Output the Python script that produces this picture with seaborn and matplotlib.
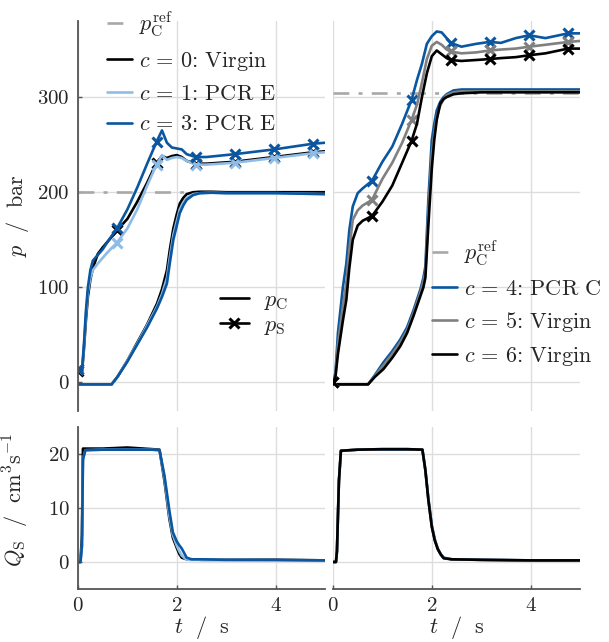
import numpy as np
import matplotlib
matplotlib.use('Agg')
import matplotlib.pyplot as plt
from matplotlib.lines import Line2D
import seaborn as sns

# --- colours ---
DARK_BLUE = '#0a56a0'
LIGHT_BLUE = '#8ebce6'
GRAY = '#808080'
BLACK = '#000000'
REF_GRAY = '#a8a8a8'

# --- top left: p in bar, cases c=0, 1, 3 ---
p_ref_left = 200
t_pS_left = [0, 0.08, 0.12, 0.16, 0.2, 0.25, 0.3, 0.4, 0.5, 0.6, 0.79, 1.0, 1.2, 1.4,
             1.59, 1.7, 1.8, 1.9, 2.0, 2.1, 2.2, 2.38, 2.6, 3.17, 3.97, 4.76, 5.0]
pS_c0 = [12, 10, 35, 65, 90, 108, 120, 135, 142, 148, 160, 172, 190, 210,
         231, 238, 236, 238, 239, 237, 233, 230, 230, 232, 237, 242, 243]
pS_c1 = [14, 12, 38, 70, 95, 110, 118, 125, 131, 137, 147, 162, 182, 207,
         229, 239, 234, 236, 237, 236, 233, 229, 229, 231, 236, 241, 242]
pS_c3 = [14, 12, 40, 75, 100, 118, 128, 134, 140, 148, 162, 182, 205, 230,
         253, 265, 252, 247, 246, 245, 240, 237, 237, 240, 245, 251, 252]

t_pC_left = [0, 0.6, 0.68, 0.8, 1.0, 1.2, 1.4, 1.6, 1.7, 1.8, 1.86, 1.93, 2.0, 2.06,
             2.13, 2.2, 2.33, 2.47, 2.7, 3.0, 4.0, 5.0]
pC_c0 = [-2, -2, -2, 6, 23, 42, 61, 83, 98, 118, 140, 162, 177, 188,
         194, 198, 200, 200.5, 200.5, 200, 200, 200]
pC_c1 = [-2, -2, -2, 6, 23, 41, 60, 80, 93, 110, 132, 155, 170, 182,
         189, 194, 198, 199, 199.5, 199, 199, 198]
pC_c3 = [-2, -2, -2, 6, 22, 40, 58, 78, 90, 104, 126, 150, 165, 178,
         186, 192, 197, 199, 199.5, 199, 199, 198]

# --- top right: p in bar, cases c=4, 5, 6 ---
p_ref_right = 304
t_pS_right = [0, 0.05, 0.1, 0.2, 0.27, 0.33, 0.4, 0.5, 0.6, 0.79, 1.0, 1.2, 1.4, 1.59,
              1.7, 1.8, 1.9, 2.0, 2.1, 2.2, 2.3, 2.38, 2.6, 2.9, 3.17, 3.4, 3.7, 3.97,
              4.3, 4.76, 5.0]
pS_c4 = [0, 10, 52, 100, 125, 160, 185, 199, 204, 212, 232, 248, 272, 297,
         318, 335, 356, 364, 369, 368, 362, 357, 353, 356, 358, 357, 362, 365,
         362, 367, 367]
pS_c5 = [0, 8, 40, 80, 105, 140, 171, 181, 186, 192, 214, 231, 252, 276,
         292, 315, 340, 354, 358, 355, 350, 348, 346, 347, 349, 350, 351, 353,
         355, 358, 359]
pS_c6 = [0, 6, 30, 65, 87, 120, 150, 165, 170, 175, 190, 207, 231, 254,
         272, 300, 325, 343, 349, 345, 341, 339, 338, 339, 340, 341, 342, 344,
         346, 351, 351]

t_pC_right = [0, 0.6, 0.71, 0.85, 1.02, 1.2, 1.36, 1.5, 1.63, 1.77, 1.83, 1.87, 1.93,
              2.0, 2.05, 2.1, 2.17, 2.24, 2.3, 2.44, 2.6, 3.0, 4.0, 5.0]
pC_c4 = [-2, -2, -2, 8, 21, 33, 45, 58, 76, 98, 110, 122, 192,
         255, 272, 286, 295, 300, 303, 307, 308, 308, 308, 308]
pC_c5 = [-2, -2, -2, 7, 18, 30, 42, 55, 73, 95, 106, 116, 178,
         240, 262, 279, 291, 298, 302, 305, 306, 306, 306, 306]
pC_c6 = [-2, -2, -2, 6, 14, 26, 38, 52, 70, 91, 100, 110, 165,
         225, 255, 276, 293, 298, 300, 303, 304, 305, 305, 305]

# --- bottom: flow rate Q_S ---
t_Q_left = [0, 0.05, 0.08, 0.1, 0.15, 0.5, 1.0, 1.5, 1.65, 1.75, 1.85, 1.92, 2.0,
            2.05, 2.1, 2.2, 2.3, 2.5, 3.0, 4.0, 5.0]
Q_c0 = [0, 0, 5, 21, 21, 21, 21.2, 20.9, 20.8, 15, 8, 4.5, 2.6, 1.5, 0.8, 0.5, 0.5,
        0.4, 0.4, 0.4, 0.3]
Q_c1 = [0, 0, 3, 19, 20.7, 20.8, 20.8, 20.8, 20.7, 15.5, 8.5, 5, 3, 2, 1.2, 0.4,
        0.4, 0.4, 0.4, 0.3, 0.3]
Q_c3 = [0, 0, 3, 19, 20.7, 20.8, 20.8, 20.8, 20.7, 16, 9.5, 5.5, 3.8, 3.1, 2.5, 0.8,
        0.5, 0.5, 0.4, 0.4, 0.3]

t_Q_right = [0, 0.06, 0.08, 0.12, 0.16, 0.5, 1.0, 1.5, 1.81, 1.87, 1.93, 2.0, 2.06,
             2.12, 2.18, 2.24, 2.4, 3.0, 4.0, 5.0]
Q_c4 = [0, 0, 2, 15, 20.6, 20.8, 20.8, 20.8, 20.8, 17, 11.8, 6.8, 4.2, 2.5, 1.5,
        0.8, 0.5, 0.4, 0.3, 0.3]
Q_c5 = [0, 0, 2, 15, 20.6, 20.8, 20.9, 20.9, 20.8, 17, 11.6, 6.6, 4.1, 2.4, 1.4,
        0.7, 0.5, 0.4, 0.3, 0.3]
Q_c6 = [0, 0, 2, 15, 20.6, 20.8, 20.9, 20.9, 20.8, 17, 11.5, 6.5, 4, 2.4, 1.4,
        0.7, 0.5, 0.4, 0.3, 0.3]

marker_times = [0, 0.79, 1.59, 2.38, 3.17, 3.97, 4.76]

sns.set_theme(style='white')
plt.rcParams['mathtext.fontset'] = 'cm'
plt.rcParams['font.family'] = 'serif'
plt.rcParams['font.serif'] = ['cmr10', 'DejaVu Serif']
plt.rcParams['axes.formatter.use_mathtext'] = True
plt.rcParams['axes.unicode_minus'] = False

FS = 15      # tick labels
FS_L = 16    # legends / axis labels
LW = 1.9
GRID_C = '#dddddd'
SPINE_C = '#555555'
REF_LS = (0, (6, 3.5, 1.5, 3.5))


def marker_idx(t, times):
    t = np.asarray(t)
    return [int(np.argmin(np.abs(t - m))) for m in times]


def draw(ax, t, y, color, pS=False, mtimes=None):
    kw = {}
    if pS:
        kw = dict(marker='x', markersize=7.5, markeredgewidth=2.2, markeredgecolor=color,
                  markerfacecolor=color, markevery=marker_idx(t, mtimes))
    sns.lineplot(x=t, y=y, ax=ax, color=color, lw=LW, estimator=None, sort=False,
                 legend=False, **kw)


def style_axes(ax, show_left, show_bottom, ylabels, xlabels):
    for s in ['top', 'right']:
        ax.spines[s].set_visible(False)
    ax.spines['left'].set_visible(show_left)
    ax.spines['bottom'].set_visible(show_bottom)
    for s in ['left', 'bottom']:
        ax.spines[s].set_color(SPINE_C)
        ax.spines[s].set_linewidth(1.3)
    ax.grid(True, color=GRID_C, lw=1.0)
    ax.set_axisbelow(True)
    ax.set_xlim(0, 5)
    ax.set_xticks([0, 2, 4])
    ax.tick_params(axis='both', labelsize=FS, direction='in', length=3, width=1,
                   color=SPINE_C, pad=6)
    ax.tick_params(axis='y', left=show_left, labelleft=ylabels)
    ax.tick_params(axis='x', bottom=show_bottom, labelbottom=xlabels)
    ax.set_xlabel('')
    ax.set_ylabel('')


fig = plt.figure(figsize=(6.09, 6.42), dpi=100)
W, H = 609, 642
ax_tl = fig.add_axes([78 / W, 1 - 411 / H, 247 / W, 390 / H])
ax_tr = fig.add_axes([333 / W, 1 - 411 / H, 247 / W, 390 / H])
ax_bl = fig.add_axes([78 / W, 1 - 589 / H, 247 / W, 162 / H])
ax_br = fig.add_axes([333 / W, 1 - 589 / H, 247 / W, 162 / H])

# top left
ax_tl.axhline(p_ref_left, color=REF_GRAY, lw=LW, ls=REF_LS, zorder=1.5)
for t, y, c in [(t_pC_left, pC_c0, BLACK), (t_pC_left, pC_c1, LIGHT_BLUE), (t_pC_left, pC_c3, DARK_BLUE)]:
    draw(ax_tl, t, y, c)
for t, y, c in [(t_pS_left, pS_c0, BLACK), (t_pS_left, pS_c1, LIGHT_BLUE), (t_pS_left, pS_c3, DARK_BLUE)]:
    draw(ax_tl, t, y, c, pS=True, mtimes=marker_times)

# top right
ax_tr.axhline(p_ref_right, color=REF_GRAY, lw=LW, ls=REF_LS, zorder=1.5)
for t, y, c in [(t_pC_right, pC_c4, DARK_BLUE), (t_pC_right, pC_c5, GRAY), (t_pC_right, pC_c6, BLACK)]:
    draw(ax_tr, t, y, c)
for t, y, c in [(t_pS_right, pS_c4, DARK_BLUE), (t_pS_right, pS_c5, GRAY), (t_pS_right, pS_c6, BLACK)]:
    draw(ax_tr, t, y, c, pS=True, mtimes=marker_times)

# bottom
for y, c in [(Q_c0, BLACK), (Q_c1, LIGHT_BLUE), (Q_c3, DARK_BLUE)]:
    draw(ax_bl, t_Q_left, y, c)
for y, c in [(Q_c4, DARK_BLUE), (Q_c5, GRAY), (Q_c6, BLACK)]:
    draw(ax_br, t_Q_right, y, c)

for ax in [ax_tl, ax_tr]:
    ax.set_ylim(-30, 380)
    ax.set_yticks([0, 100, 200, 300])
for ax in [ax_bl, ax_br]:
    ax.set_ylim(-5, 25)
    ax.set_yticks([0, 10, 20])

style_axes(ax_tl, True, False, True, False)
style_axes(ax_tr, False, False, False, False)
style_axes(ax_bl, True, True, True, True)
style_axes(ax_br, False, True, False, True)

ax_tl.set_ylabel(r'$p\ \ /\ \ \mathrm{bar}$', fontsize=FS_L)
ax_tl.yaxis.set_label_coords(-0.19, 0.5)
ax_bl.set_ylabel(r'$Q_{\mathrm{S}}\ \ /\ \ \mathrm{cm}^3\mathrm{s}^{-1}$', fontsize=FS_L)
ax_bl.yaxis.set_label_coords(-0.19, 0.55)
ax_bl.set_xlabel(r'$t\ \ /\ \ \mathrm{s}$', fontsize=FS_L, labelpad=-1)
ax_br.set_xlabel(r'$t\ \ /\ \ \mathrm{s}$', fontsize=FS_L, labelpad=-1)

ref_label = r'$p_{\mathrm{C}}^{\mathrm{ref}}$'
ref_handle = Line2D([], [], color=REF_GRAY, lw=LW, ls=REF_LS)

leg_kw = dict(loc='upper left', frameon=False, fontsize=FS_L, borderpad=0, borderaxespad=0,
              handlelength=1.15, handletextpad=0.3, labelspacing=0.5)

h_left = [ref_handle,
          Line2D([], [], color=BLACK, lw=LW),
          Line2D([], [], color=LIGHT_BLUE, lw=LW),
          Line2D([], [], color=DARK_BLUE, lw=LW)]
l_left = [ref_label, r'$c\,=\,0$: Virgin', r'$c\,=\,1$: PCR E', r'$c\,=\,3$: PCR E']
leg1 = ax_tl.legend(h_left, l_left, bbox_to_anchor=(0.117, 1.03), **leg_kw)
ax_tl.add_artist(leg1)

h_p = [Line2D([], [], color=BLACK, lw=LW),
       Line2D([], [], color=BLACK, lw=LW, marker='x', markersize=7.5, markeredgewidth=2.2)]
l_p = [r'$p_{\mathrm{C}}$', r'$p_{\mathrm{S}}$']
ax_tl.legend(h_p, l_p, loc='upper left', frameon=False, fontsize=FS_L, borderpad=0,
             borderaxespad=0, handlelength=1.3, handletextpad=0.7, labelspacing=0.15,
             bbox_to_anchor=(0.575, 0.31))

h_right = [ref_handle,
           Line2D([], [], color=DARK_BLUE, lw=LW),
           Line2D([], [], color=GRAY, lw=LW),
           Line2D([], [], color=BLACK, lw=LW)]
l_right = [ref_label, r'$c\,=\,4$: PCR C', r'$c\,=\,5$: Virgin', r'$c\,=\,6$: Virgin']
ax_tr.legend(h_right, l_right, bbox_to_anchor=(0.40, 0.442), **leg_kw)

fig.savefig('out.png', dpi=100)
